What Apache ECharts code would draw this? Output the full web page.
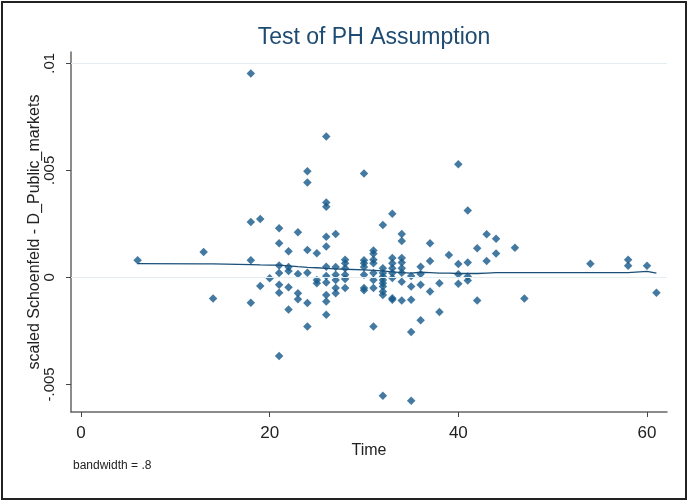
<!DOCTYPE html>
<html>
<head>
<meta charset="utf-8">
<script src="https://cdn.jsdelivr.net/npm/echarts@6/dist/echarts.min.js"></script>
<style>
  html, body { margin: 0; padding: 0; background: #fff; }
  #chart { width: 688px; height: 502px; }
</style>
</head>
<body>
<div id="chart"></div>
<script>
// scaled Schoenfeld residuals (time, value)
const times = [
  6, 13, 14,
  18, 18, 18, 18, 19, 19, 20,
  21, 21, 21, 21, 21, 21, 21,
  22, 22, 22, 22, 22,
  23, 23, 23, 23,
  24, 24, 24, 24, 24, 24,
  25, 25, 25,
  26, 26, 26, 26, 26, 26, 26, 26, 26, 26, 26,
  27, 27, 27, 27, 27, 27,
  28, 28, 28, 28, 28, 28,
  30, 30, 30, 30, 30, 30, 30,
  31, 31, 31, 31, 31, 31, 31, 31,
  32, 32, 32, 32, 32, 32, 32, 32, 32, 32,
  33, 33, 33, 33, 33, 33, 33, 33,
  34, 34, 34, 34, 34, 34, 34, 34,
  35, 35, 35, 35, 35,
  36, 36, 36, 36,
  37, 37, 37,
  38, 38,
  39,
  40, 40, 40, 40,
  41, 41, 41, 41,
  42, 42,
  43, 43,
  44, 44,
  46, 47, 54, 58, 58, 60, 61
];
const resid = [
  0.0008, 0.00118, -0.00099,
  0.00952, 0.00259, 0.0008, -0.00119, 0.00273, -0.0004, -0.00004,
  0.0023, 0.0016, 0.00055, 0.0002, -0.00035, -0.00072, -0.00367,
  0.00122, 0.00048, 0.0003, -0.00046, -0.0015,
  0.00211, 0.00016, -0.00074, -0.00102,
  0.00496, 0.00443, 0.00128, 0.00022, -0.0012, -0.0023,
  0.00113, -0.00012, -0.00027,
  0.00658, 0.0035, 0.0033, 0.0019, 0.00144, 0.0005, 0.00007, -0.00024, -0.00082, -0.00113, -0.00175,
  0.00203, 0.00048, 0.00012, -0.00012, -0.0005, -0.00074,
  0.00082, 0.00066, 0.00043, 0.00012, -0.00008, -0.0005,
  0.00485, 0.0008, 0.00066, 0.00048, 0.00012, -0.0005, -0.0006,
  0.00125, 0.0011, 0.00082, 0.00066, 0.0002, -0.00012, -0.0005, -0.0023,
  0.00245, 0.00043, 0.0002, 0.00004, -0.00012, -0.00027, -0.00043, -0.00066, -0.00082, -0.00553,
  0.00297, 0.0009, 0.00066, 0.00043, 0.0002, -0.00003, -0.00097, -0.00105,
  0.00203, 0.0017, 0.0009, 0.0007, 0.00043, 0.00022, -0.0002, -0.00108,
  0.00007, -0.00043, -0.00105, -0.00255, -0.00577,
  0.0005, 0.00016, -0.00035, -0.002,
  0.0016, 0.00077, -0.00066,
  -0.00027, -0.00162,
  0.00105,
  0.00528, 0.00063, 0.00015, -0.0003,
  0.00312, 0.0007, 0.00004, -0.00015,
  0.00136, -0.00108,
  0.00202, 0.00076,
  0.0018, 0.00111,
  0.00138, -0.00099, 0.00064, 0.00082, 0.00054, 0.00054, -0.00072
];
// running-line smoother (bandwidth .8)
const smoothTime = [6, 13, 14, 18, 19, 20, 21, 22, 23, 24, 25, 26, 27, 28, 30, 31, 32, 33, 34, 35, 36, 37, 38, 39, 40, 41, 42, 43, 44, 46, 47, 54, 58, 60, 61];
const smoothVal = [0.00064, 0.00063, 0.00063, 0.0006, 0.00058, 0.00057, 0.00057, 0.00054, 0.0005, 0.00047, 0.00045, 0.00042, 0.0004, 0.00038, 0.00035, 0.00033, 0.0003, 0.00026, 0.00022, 0.0002, 0.00024, 0.00022, 0.0002, 0.0002, 0.00018, 0.00018, 0.00018, 0.0002, 0.00022, 0.00022, 0.00022, 0.00022, 0.00022, 0.00028, 0.0002];

const xTicks = [0, 20, 40, 60];
const yTicks = [-0.005, 0, 0.005, 0.01];
const yLabels = ['-.005', '0', '.005', '.01'];

const points = times.map((t, i) => [t, resid[i]]);
const smooth = smoothTime.map((t, i) => [t, smoothVal[i]]);

const navy = '#15598a';
const font = 'Liberation Sans, Arial, sans-serif';

const chart = echarts.init(document.getElementById('chart'), null, { renderer: 'canvas' });
chart.setOption({
  animation: false,
  backgroundColor: '#fff',
  title: {
    text: 'Test of PH Assumption',
    left: 369,
    textAlign: 'center',
    top: 21,
    textStyle: { fontFamily: font, fontSize: 23, fontWeight: 'normal', color: '#1e4b72' }
  },
  graphic: [
    {
      type: 'rect',
      shape: { x: 2, y: 2, width: 684, height: 497 },
      style: { fill: 'none', stroke: '#222', lineWidth: 2 },
      silent: true
    },
    {
      type: 'text',
      left: 73,
      top: 460,
      style: { text: 'bandwidth = .8', fontFamily: font, fontSize: 12, fill: '#222' }
    }
  ],
  grid: { left: 71, right: 21, top: 52, bottom: 90, containLabel: false },
  xAxis: {
    type: 'value',
    min: -1.06,
    max: 62.12,
    name: 'Time',
    nameLocation: 'middle',
    nameGap: 31,
    nameMoveOverlap: false,
    nameTextStyle: { fontFamily: font, fontSize: 16, color: '#222' },
    axisLine: { show: true, onZero: false, lineStyle: { color: '#666', width: 1.5 } },
    axisTick: { show: true, customValues: xTicks, length: 5, lineStyle: { color: '#444', width: 1 } },
    axisLabel: { customValues: xTicks, fontFamily: font, fontSize: 17, color: '#222', margin: 13 },
    splitLine: { show: false }
  },
  yAxis: {
    type: 'value',
    min: -0.00629,
    max: 0.01053,
    name: 'scaled Schoenfeld - D_Public_markets',
    nameLocation: 'middle',
    nameGap: 28,
    nameMoveOverlap: false,
    nameTextStyle: { fontFamily: font, fontSize: 16, color: '#222' },
    axisLine: { show: true, onZero: false, lineStyle: { color: '#666', width: 1.5 } },
    axisTick: { show: true, customValues: yTicks, length: 5, lineStyle: { color: '#444', width: 1 } },
    axisLabel: {
      customValues: yTicks,
      rotate: 90,
      fontFamily: font,
      fontSize: 15,
      color: '#222',
      margin: 14,
      formatter: v => {
        const i = yTicks.findIndex(t => Math.abs(t - v) < 1e-9);
        return i >= 0 ? yLabels[i] : '';
      }
    },
    splitLine: { show: false }
  },
  series: [
    {
      type: 'scatter',
      name: 'residuals',
      data: points,
      symbol: 'diamond',
      symbolSize: 8.5,
      itemStyle: { color: navy },
      z: 3,
      markLine: {
        silent: true,
        symbol: 'none',
        label: { show: false },
        lineStyle: { color: '#e4eef2', width: 1, type: 'solid' },
        data: yTicks.map(v => ({ yAxis: v }))
      }
    },
    {
      type: 'line',
      name: 'smooth',
      data: smooth,
      showSymbol: false,
      symbol: 'none',
      lineStyle: { color: '#1a4f7a', width: 1.3 },
      z: 4
    }
  ]
});
</script>
</body>
</html>
